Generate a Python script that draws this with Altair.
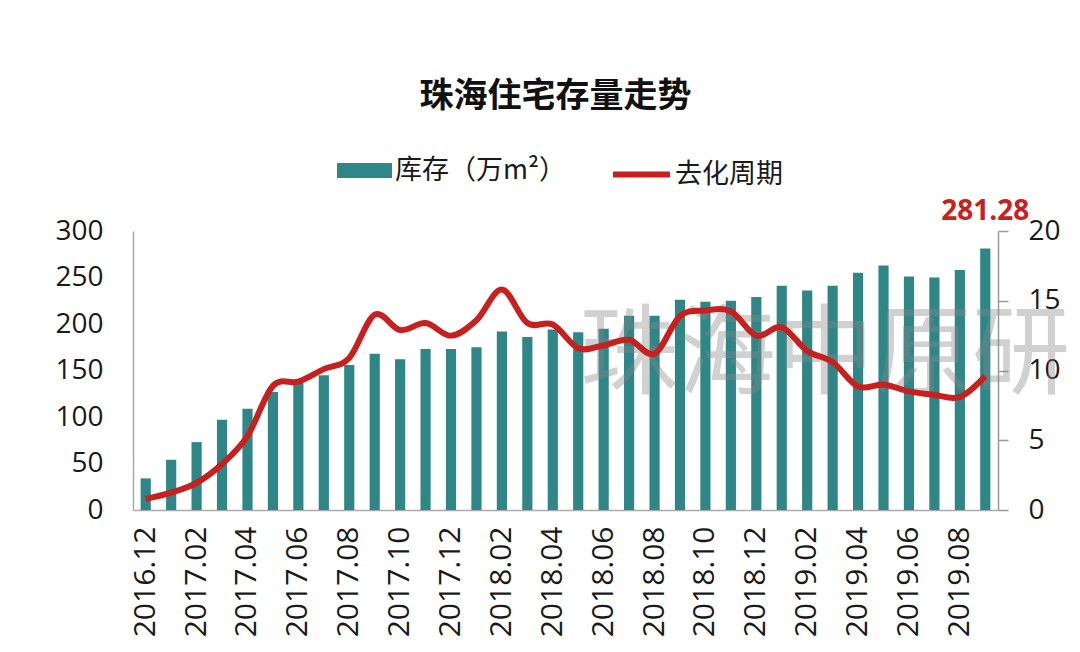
import altair as alt
import pandas as pd

# ---------------- data ----------------
months = ["2016.12", "2017.01", "2017.02", "2017.03", "2017.04", "2017.05", "2017.06",
          "2017.07", "2017.08", "2017.09", "2017.10", "2017.11", "2017.12", "2018.01",
          "2018.02", "2018.03", "2018.04", "2018.05", "2018.06", "2018.07", "2018.08",
          "2018.09", "2018.10", "2018.11", "2018.12", "2019.01", "2019.02", "2019.03",
          "2019.04", "2019.05", "2019.06", "2019.07", "2019.08", "2019.09"]
inventory = [34, 54, 73, 97, 109, 127, 139, 145, 156, 168, 162, 173, 173, 175,
             192, 186, 194, 191, 195, 209, 209, 226, 224, 225, 229, 241, 236, 241,
             255, 263, 251, 250, 258, 281.28]
cycle = [0.8, 1.25, 1.95, 3.3, 5.3, 8.9, 9.2, 10.1, 10.9, 14.0, 12.9, 13.4, 12.5, 13.6,
         15.8, 13.4, 13.3, 11.6, 11.8, 12.2, 11.2, 13.9, 14.3, 14.25, 12.5, 13.1, 11.4,
         10.6, 8.85, 9.0, 8.5, 8.25, 8.1, 9.6]
tick_labels = ["2016.12", "2017.02", "2017.04", "2017.06", "2017.08", "2017.10",
               "2017.12", "2018.02", "2018.04", "2018.06", "2018.08", "2018.10",
               "2018.12", "2019.02", "2019.04", "2019.06", "2019.08"]
left_ticks = [0, 50, 100, 150, 200, 250, 300]
right_ticks = [0, 5, 10, 15, 20]
title_text = "珠海住宅存量走势"
name_inventory = "库存（万m²）"
name_cycle = "去化周期"
watermark_text = "珠海中原研"
highlight_month = "2019.09"

df = pd.DataFrame({
    "month": months,
    "inventory": inventory,
    "cycle": cycle,
    "inv_name": [name_inventory] * len(months),
    "cyc_name": [name_cycle] * len(months),
})

CJK = "Noto Sans CJK SC"
NUM = "Open Sans"
TEAL = "#2E8687"
RED = "#C8201E"

x_enc = alt.X(
    "month:N", sort=months,
    scale=alt.Scale(paddingInner=0.6, paddingOuter=0.3),
    axis=alt.Axis(values=tick_labels, labelAngle=-90, labelFont=NUM, labelFontSize=30,
                  labelColor="#1a1a1a", labelPadding=16, ticks=False,
                  domainColor="#aaaaaa", domainWidth=1.5, title=None),
)

y_left = alt.Y(
    "inventory:Q",
    scale=alt.Scale(domain=[0, 300], nice=False, zero=True),
    axis=alt.Axis(values=left_ticks, labelFont=NUM, labelFontSize=28, labelColor="#1a1a1a",
                  labelPadding=30, ticks=False, grid=False, domainColor="#aaaaaa",
                  domainWidth=1.5, title=None, orient="left"),
)

bars = alt.Chart(df).mark_bar(color=TEAL).encode(
    x=x_enc,
    y=y_left,
    fill=alt.Fill("inv_name:N", scale=alt.Scale(domain=[name_inventory], range=[TEAL]),
                  legend=alt.Legend(orient="none", legendX=204, legendY=-88, title=None,
                                    symbolType="M-1,-0.27H1V0.27H-1Z", symbolSize=3025,
                                    symbolStrokeWidth=0, labelFont=CJK, labelFontSize=27,
                                    labelColor="#1a1a1a", labelOffset=3, padding=0,
                                    labelLimit=400)),
)

watermark = alt.Chart(pd.DataFrame({"t": [watermark_text]})).mark_text(
    font=CJK, fontSize=98, color="#888888", opacity=0.38, align="left", baseline="middle"
).encode(text="t:N", x=alt.value(447), y=alt.value(126))

label = alt.Chart(df).transform_filter(alt.datum.month == highlight_month).mark_text(
    font=NUM, fontSize=28, fontWeight="bold", color=RED, baseline="bottom", dy=-22
).encode(x=x_enc, y=y_left, text=alt.Text("inventory:Q", format=".2f"))

left = alt.layer(bars, watermark, label)

line = alt.Chart(df).mark_line(strokeWidth=6, interpolate="cardinal").encode(
    x=x_enc,
    y=alt.Y("cycle:Q", scale=alt.Scale(domain=[0, 20], nice=False),
            axis=alt.Axis(values=right_ticks, orient="right", labelFont=NUM, labelFontSize=28,
                          labelColor="#1a1a1a", ticks=True, tickSize=10, tickColor="#999999",
                          tickWidth=1.5, labelPadding=20, grid=False, domainColor="#999999",
                          domainWidth=1.5, title=None)),
    stroke=alt.Stroke("cyc_name:N", scale=alt.Scale(domain=[name_cycle], range=[RED]),
                      legend=alt.Legend(orient="none", legendX=477, legendY=-88, title=None,
                                        symbolType="stroke", symbolSize=3249,
                                        symbolStrokeWidth=6, labelFont=CJK, labelFontSize=27,
                                        labelColor="#1a1a1a", labelOffset=2, padding=0,
                                        labelLimit=400)),
)

chart = alt.layer(left, line).resolve_scale(y="independent").properties(
    width=865, height=279,
    title=alt.TitleParams(title_text, font=CJK, fontSize=34, fontWeight="bold",
                          color="#111111", anchor="middle", frame="group", offset=29, dx=-10),
    autosize=alt.AutoSizeParams(type="none"),
    padding={"left": 125, "top": 223, "right": 70, "bottom": 132},
).configure_view(stroke=None)

chart.save("out.html", embed_options={"renderer": "svg", "actions": False})
